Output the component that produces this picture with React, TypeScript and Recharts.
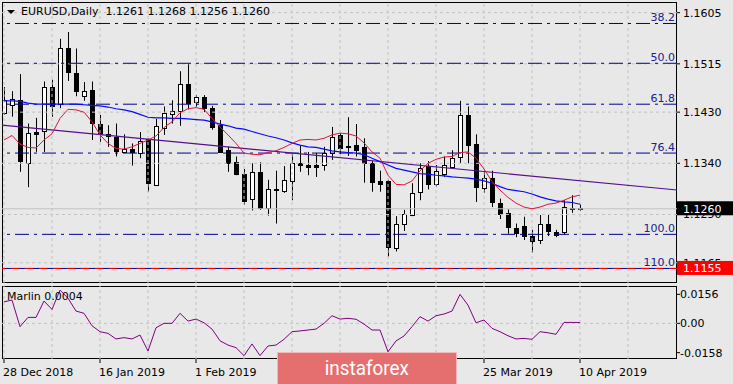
import React from "react";
import {
  ComposedChart,
  Bar,
  Line,
  XAxis,
  YAxis,
  ReferenceLine,
  ReferenceArea,
} from "recharts";

// visible bar slots (MT4 keeps a right shift after the last bar)
const X_MIN = -0.25;
const X_MAX = 84.125;
const PRICE_MIN = 1.11294;
const PRICE_MAX = 1.16238;
const OSC_MIN = -0.0192;
const OSC_MAX = 0.0201;

const BG = "#e8e8e8";
const GRID = "#c2c2c2";
const FIB = "#000090";
const FONT = "'DejaVu Sans', Verdana, sans-serif";

// EURUSD daily, 28 Dec 2018 .. 10 Apr 2019
const opens = [
  1.1429, 1.1442, 1.1451, 1.1341, 1.1395, 1.1397, 1.1474, 1.1443, 1.1542, 1.1499,
  1.1459, 1.1469, 1.141, 1.1391, 1.1387, 1.136, 1.1365, 1.1358, 1.1382, 1.1302,
  1.1402, 1.1426, 1.1433, 1.148, 1.1447, 1.1456, 1.1437, 1.1407, 1.1363, 1.1342,
  1.1321, 1.1277, 1.1324, 1.1261, 1.1294, 1.1292, 1.1308, 1.134, 1.1337, 1.1337,
  1.1337, 1.1358, 1.139, 1.1371, 1.1372, 1.1368, 1.134, 1.1309, 1.1308, 1.1192,
  1.1233, 1.1249, 1.1289, 1.1335, 1.1305, 1.1322, 1.1334, 1.1351, 1.1425, 1.1374,
  1.1296, 1.1314, 1.127, 1.1252, 1.1226, 1.1229, 1.1212, 1.1205, 1.1233, 1.122,
  1.1219, 1.1262, 1.1261,
];
const highs = [
  1.1474, 1.1467, 1.1497, 1.141, 1.142, 1.1484, 1.1487, 1.1559, 1.1571, 1.1542,
  1.1483, 1.1484, 1.1425, 1.1407, 1.141, 1.1391, 1.1375, 1.1395, 1.1384, 1.1418,
  1.144, 1.1451, 1.1502, 1.1516, 1.146, 1.146, 1.1441, 1.1416, 1.1369, 1.1352,
  1.133, 1.134, 1.1342, 1.1311, 1.1327, 1.1335, 1.1356, 1.1371, 1.136, 1.1358,
  1.1369, 1.1404, 1.1393, 1.1421, 1.1409, 1.1384, 1.1344, 1.1327, 1.1311, 1.1247,
  1.1258, 1.1305, 1.134, 1.1344, 1.1337, 1.1352, 1.1363, 1.145, 1.144, 1.1391,
  1.1327, 1.1327, 1.1278, 1.1259, 1.1234, 1.1246, 1.1223, 1.1249, 1.1249, 1.1223,
  1.1275, 1.1284, 1.1268,
];
const lows = [
  1.1425, 1.1422, 1.1325, 1.1298, 1.136, 1.136, 1.1422, 1.1437, 1.1485, 1.1458,
  1.145, 1.1381, 1.1378, 1.1369, 1.1352, 1.1358, 1.1336, 1.1349, 1.129, 1.13,
  1.139, 1.141, 1.1406, 1.1435, 1.1439, 1.143, 1.1399, 1.1359, 1.1325, 1.1319,
  1.1267, 1.1257, 1.1258, 1.1248, 1.1234, 1.1288, 1.1275, 1.1325, 1.1319, 1.1316,
  1.1327, 1.1346, 1.1356, 1.1353, 1.1352, 1.1306, 1.129, 1.129, 1.1176, 1.1185,
  1.1221, 1.1247, 1.1275, 1.1294, 1.1299, 1.1316, 1.1331, 1.134, 1.134, 1.1272,
  1.1288, 1.1263, 1.1242, 1.1216, 1.121, 1.1205, 1.1183, 1.1198, 1.1212, 1.121,
  1.1214, 1.1253, 1.1256,
];
const closes = [
  1.1451, 1.1453, 1.1343, 1.1393, 1.1392, 1.1474, 1.1441, 1.1542, 1.1499, 1.1468,
  1.1467, 1.1411, 1.1392, 1.1387, 1.1363, 1.1366, 1.1359, 1.1379, 1.1304, 1.1406,
  1.1428, 1.1432, 1.148, 1.1446, 1.1456, 1.1437, 1.1404, 1.136, 1.134, 1.1321,
  1.1274, 1.1325, 1.126, 1.1294, 1.1292, 1.1311, 1.134, 1.1336, 1.1334, 1.1334,
  1.1358, 1.1387, 1.1368, 1.137, 1.1363, 1.134, 1.1306, 1.1304, 1.1192, 1.1234,
  1.125, 1.1287, 1.1331, 1.1304, 1.1327, 1.1337, 1.1349, 1.1425, 1.1373, 1.1299,
  1.1314, 1.1271, 1.125, 1.1227, 1.1217, 1.1212, 1.1203, 1.1233, 1.1221, 1.1214,
  1.1263, 1.1261, 1.126,
];

// red (fast) and blue (slow) moving averages
const fastMA = [
  1.1381, 1.1389, 1.1374, 1.1368, 1.1367, 1.1381, 1.1392, 1.1419, 1.1435, 1.1434,
  1.143, 1.1413, 1.139, 1.1375, 1.1366, 1.1365, 1.1369, 1.1375, 1.1381, 1.1388,
  1.1403, 1.1413, 1.1429, 1.1436, 1.1438, 1.1435, 1.1419, 1.1404, 1.139, 1.1375,
  1.1358, 1.1356, 1.1355, 1.1359, 1.1362, 1.1368, 1.1375, 1.1381, 1.1382, 1.1381,
  1.1384, 1.139, 1.1393, 1.1392, 1.1388, 1.1376, 1.136, 1.1349, 1.1319, 1.1303,
  1.1302, 1.1309, 1.1327, 1.134, 1.1347, 1.1351, 1.1352, 1.1359, 1.136, 1.1349,
  1.133, 1.1308, 1.1293, 1.128, 1.127, 1.1263, 1.126, 1.1263, 1.1268, 1.127,
  1.1275, 1.1281, 1.1284,
];
const slowMA = [
  1.145, 1.145, 1.1449, 1.1446, 1.1444, 1.1444, 1.1444, 1.1444, 1.1444, 1.1444,
  1.1443, 1.1442, 1.1441, 1.1439, 1.1436, 1.1434, 1.1431, 1.1426, 1.1421, 1.142,
  1.142, 1.1419, 1.1419, 1.1418, 1.1417, 1.1416, 1.1413, 1.1409, 1.1406, 1.1402,
  1.14, 1.1396, 1.1392, 1.1388, 1.1385, 1.1381, 1.1376, 1.1372, 1.1369, 1.1368,
  1.1365, 1.1362, 1.136, 1.1359, 1.1358, 1.1355, 1.1349, 1.1343, 1.1337, 1.1331,
  1.1328, 1.1325, 1.1322, 1.1321, 1.1319, 1.1318, 1.1316, 1.1315, 1.1314, 1.1312,
  1.1309, 1.1305, 1.1299, 1.1294, 1.1292, 1.129, 1.1286, 1.1281, 1.1277, 1.1274,
  1.1272, 1.1271, 1.1268,
];

// Marlin oscillator
const marlin = [
  0.0116, 0.0125, -0.0018, 0.0032, 0.0032, 0.012, 0.0075, 0.0179, 0.0135, 0.0066,
  0.0054, -0.0013, -0.0045, -0.0054, -0.0084, -0.0077, -0.0084, -0.0063, -0.0149, -0.0024,
  0.0, 0.0, 0.0054, 0.0012, 0.0023, 0.0003, -0.0031, -0.0094, -0.0117, -0.0131,
  -0.0174, -0.0111, -0.0174, -0.0122, -0.0117, -0.0086, -0.0045, -0.0041, -0.0036, -0.0031,
  0.0, 0.0041, 0.0023, 0.0027, 0.0022, -0.0004, -0.0036, -0.0036, -0.0153, -0.0095,
  -0.0068, -0.0018, 0.0036, 0.0012, 0.0041, 0.005, 0.0066, 0.0156, 0.0098, 0.0003,
  0.0018, -0.0027, -0.0045, -0.0067, -0.0084, -0.0081, -0.0086, -0.0045, -0.0051, -0.0059,
  0.0005, 0.0005, 0.0004,
];

// purple trend line, value at the left and right edge of the window
const trendLine = [1.1407, 1.1293];

const fibLevels = [1.1586, 1.1516, 1.1444, 1.1358, 1.1215, 1.1155];
const fibLabels = ["38.2", "50.0", "61.8", "76.4", "100.0", "110.0"];

const priceTicks = [1.1605, 1.1515, 1.143, 1.134, 1.125, 1.1165];
const oscTicks = [0.0156, 0, -0.0158];

const dateTickBars = [0, 12, 24, 36, 48, 60, 72];
const dateTickLabels = [
  "28 Dec 2018",
  "16 Jan 2019",
  "1 Feb 2019",
  "19 Feb 2019",
  "7 Mar 2019",
  "25 Mar 2019",
  "10 Apr 2019",
];
const gridBars = [0, 6, 12, 18, 24, 30, 36, 42, 48, 54, 60, 66, 72, 78];

const lastPrice = 1.126;
const alertPrice = 1.1155;

const candles = opens.map((open, i) => ({
  i,
  open,
  high: highs[i],
  low: lows[i],
  close: closes[i],
  fast: fastMA[i],
  slow: slowMA[i],
}));
const oscData = marlin.map((m, i) => ({ i, marlin: m }));

function Candle(props: any) {
  const { x, y, width, height, payload } = props;
  if (!payload) return null;
  const top = Math.min(y, y + height);
  const span = Math.abs(height);
  const range = payload.high - payload.low;
  const toY = (v: number) => (range > 0 ? top + ((payload.high - v) / range) * span : top);
  const cx = Math.round(x + width / 2) + 0.5;
  const yOpen = toY(payload.open);
  const yClose = toY(payload.close);
  const bodyTop = Math.round(Math.min(yOpen, yClose)) + 0.5;
  const bodyH = Math.max(1, Math.round(Math.abs(yOpen - yClose)));
  const bull = payload.close >= payload.open;
  return (
    <g>
      <line x1={cx} x2={cx} y1={top} y2={top + span} stroke="#000" />
      <rect x={cx - 2} y={bodyTop} width={4} height={bodyH} fill={bull ? "#fff" : "#000"} stroke="#000" />
    </g>
  );
}

// plot border drawn on whole pixels
const Frame = (p: any) => (
  <rect
    x={Math.round(p.x) + 0.5}
    y={Math.round(p.y) + 0.5}
    width={Math.round(p.width) - 1}
    height={Math.round(p.height) - 1}
    fill="none"
    stroke="#000"
  />
);

const fibLabel = (text: string) => (p: any) => {
  const vb = p.viewBox;
  if (!vb) return null;
  return (
    <text x={vb.x + vb.width - 2} y={vb.y - 2} textAnchor="end" fill="#20208c" fontSize={11} fontFamily={FONT}>
      {text}
    </text>
  );
};

const priceTag = (text: string, fill: string) => (p: any) => {
  const vb = p.viewBox;
  if (!vb) return null;
  const left = vb.x + vb.width;
  return (
    <g>
      <rect x={left} y={vb.y - 7.5} width={56} height={14} fill={fill} />
      <text x={left + 6} y={vb.y + 4} fill="#fff" fontSize={11} fontFamily={FONT}>
        {text}
      </text>
    </g>
  );
};

const DateTick = (p: any) => {
  const idx = dateTickBars.indexOf(p.payload.value);
  return (
    <text x={p.x - 1} y={p.y} dy={11} textAnchor="start" fill="#000" fontSize={11} fontFamily={FONT}>
      {dateTickLabels[idx]}
    </text>
  );
};

const mainMargin = { top: 2, right: 0, bottom: 2, left: 2 };

export default function App() {
  return (
    <div
      style={{
        position: "absolute",
        left: 0,
        top: 0,
        width: 733,
        height: 384,
        background: BG,
        overflow: "hidden",
        fontFamily: FONT,
        fontSize: 11,
      }}
    >
      <div style={{ position: "absolute", left: 0, top: 0 }}>
        <ComposedChart width={733} height={285} data={candles} margin={mainMargin}>
          <XAxis type="number" dataKey="i" domain={[X_MIN, X_MAX]} allowDataOverflow hide />
          <YAxis
            orientation="right"
            width={56}
            domain={[PRICE_MIN, PRICE_MAX]}
            allowDataOverflow
            ticks={priceTicks}
            interval={0}
            tickFormatter={(v: number) => v.toFixed(4)}
            tickSize={3}
            tickMargin={3}
            axisLine={false}
            tickLine={{ stroke: "#000" }}
            tick={{ fill: "#000", fontSize: 11, fontFamily: FONT }}
          />
          {priceTicks.map((t) => (
            <ReferenceLine key={`h${t}`} y={t} stroke={GRID} strokeDasharray="3 3" />
          ))}
          {gridBars.map((b) => (
            <ReferenceLine key={`v${b}`} x={b} stroke={GRID} strokeDasharray="3 3" />
          ))}
          <ReferenceLine y={lastPrice} stroke="#c4c4c4" />
          {fibLevels.map((lv, k) => (
            <ReferenceLine
              key={`f${k}`}
              y={lv}
              stroke={FIB}
              strokeDasharray={lv === alertPrice ? undefined : "14 5 3 5"}
              label={fibLabel(fibLabels[k])}
            />
          ))}
          <ReferenceLine y={alertPrice} stroke="#ff0000" strokeDasharray="8 6" />
          <ReferenceLine
            segment={[
              { x: X_MIN, y: trendLine[0] },
              { x: X_MAX, y: trendLine[1] },
            ]}
            stroke="#55108a"
            strokeWidth={1.2}
            ifOverflow="visible"
          />
          <Bar dataKey={(d: any) => [d.low, d.high]} shape={Candle} barSize={6} isAnimationActive={false} />
          <Line type="linear" dataKey="slow" stroke="#0a0aff" strokeWidth={1.2} dot={false} isAnimationActive={false} />
          <Line type="linear" dataKey="fast" stroke="#e0143c" strokeWidth={1} dot={false} isAnimationActive={false} />
          <ReferenceArea x1={X_MIN} x2={X_MAX} y1={PRICE_MIN} y2={PRICE_MAX} shape={Frame} />
        </ComposedChart>
      </div>

      {/* price tags sit above the axis labels, so they get their own layer */}
      <div style={{ position: "absolute", left: 0, top: 0, pointerEvents: "none" }}>
        <ComposedChart width={733} height={285} data={candles} margin={mainMargin}>
          <XAxis type="number" dataKey="i" domain={[X_MIN, X_MAX]} allowDataOverflow hide />
          <YAxis
            orientation="right"
            width={56}
            domain={[PRICE_MIN, PRICE_MAX]}
            allowDataOverflow
            tick={false}
            tickLine={false}
            axisLine={false}
          />
          <ReferenceLine y={lastPrice} stroke="none" label={priceTag("1.1260", "#000")} />
          <ReferenceLine y={alertPrice} stroke="none" label={priceTag("1.1155", "#ff0000")} />
        </ComposedChart>
      </div>

      <div style={{ position: "absolute", left: 0, top: 284 }}>
        <ComposedChart width={733} height={100} data={oscData} margin={{ top: 2, right: 0, bottom: 0, left: 2 }}>
          <XAxis
            type="number"
            dataKey="i"
            domain={[X_MIN, X_MAX]}
            allowDataOverflow
            ticks={dateTickBars}
            interval={0}
            height={25}
            tickSize={4}
            tickMargin={2}
            axisLine={false}
            tickLine={{ stroke: "#000" }}
            tick={DateTick}
          />
          <YAxis
            orientation="right"
            width={56}
            domain={[OSC_MIN, OSC_MAX]}
            allowDataOverflow
            ticks={oscTicks}
            interval={0}
            tickFormatter={(v: number) => (v === 0 ? "0.00" : v.toFixed(4))}
            tickSize={3}
            tickMargin={0}
            axisLine={false}
            tickLine={{ stroke: "#000" }}
            tick={{ fill: "#000", fontSize: 11, fontFamily: FONT }}
          />
          <ReferenceLine y={0} stroke={GRID} strokeDasharray="3 3" />
          {gridBars.map((b) => (
            <ReferenceLine key={`ov${b}`} x={b} stroke={GRID} strokeDasharray="3 3" />
          ))}
          <Line type="linear" dataKey="marlin" stroke="#800080" strokeWidth={1} dot={false} isAnimationActive={false} />
          <ReferenceArea x1={X_MIN} x2={X_MAX} y1={OSC_MIN} y2={OSC_MAX} shape={Frame} />
        </ComposedChart>
      </div>

      {/* chart caption */}
      <div
        style={{
          position: "absolute",
          left: 7,
          top: 10,
          width: 0,
          height: 0,
          borderLeft: "4px solid transparent",
          borderRight: "4px solid transparent",
          borderTop: "4px solid #000",
        }}
      />
      <div style={{ position: "absolute", left: 21, top: 5, lineHeight: "13px", whiteSpace: "pre", color: "#000" }}>
        {"EURUSD,Daily  1.1261 1.1268 1.1256 1.1260"}
      </div>
      <div style={{ position: "absolute", left: 7, top: 290, lineHeight: "13px", whiteSpace: "pre", color: "#000" }}>
        {"Marlin 0.0004"}
      </div>

      {/* watermark */}
      <div
        style={{
          position: "absolute",
          left: 277,
          top: 352,
          width: 178,
          height: 32,
          background: "#e56f6f",
          border: "1px solid #f4b8b8",
          borderBottom: "none",
          color: "#fff",
          textAlign: "center",
          fontFamily: "Roboto, sans-serif",
          fontSize: 21,
          lineHeight: "30px",
        }}
      >
        <span style={{ display: "inline-block", transform: "scaleX(0.9)", letterSpacing: 0 }}>instaforex</span>
      </div>
    </div>
  );
}
